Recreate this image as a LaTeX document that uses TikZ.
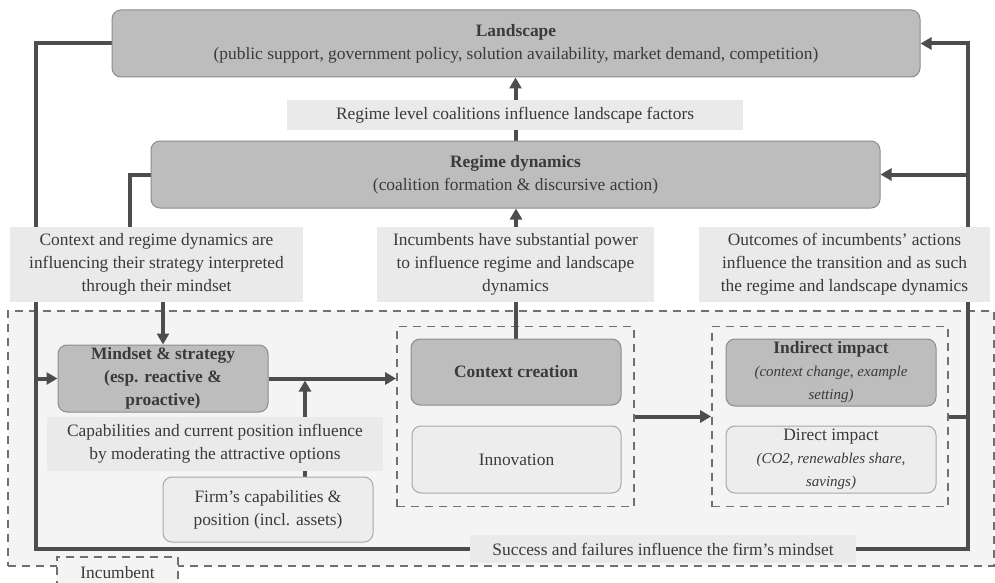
\documentclass[tikz,border=0pt]{standalone}
\usepackage{fontspec}
\setmainfont{Liberation Serif}
\usetikzlibrary{arrows.meta}

\definecolor{ink}{HTML}{3A3A3A}
\definecolor{wirecol}{HTML}{4D4D4D}
\definecolor{darkfill}{HTML}{BDBDBD}
\definecolor{darkedge}{HTML}{8C8C8C}
\definecolor{lightfill}{HTML}{EDEDED}
\definecolor{lightedge}{HTML}{A8A8A8}
\definecolor{notefill}{HTML}{EAEAEA}
\definecolor{zonefill}{HTML}{F4F4F4}
\definecolor{dashcol}{HTML}{707070}

\newcommand\detailtext{\fontsize{15}{22}\selectfont\itshape}

\pgfdeclarelayer{zone}
\pgfdeclarelayer{wires}
\pgfsetlayers{zone,wires,main}

\tikzset{
  base/.style={inner sep=0pt, align=center, text=ink,
    font=\fontsize{17.4}{23}\selectfont},
  darkbox/.style={base, rounded corners=9pt, fill=darkfill, draw=darkedge, line width=1pt},
  lightbox/.style={base, rounded corners=9pt, fill=lightfill, draw=lightedge, line width=1pt},
  note/.style={base, fill=notefill},
  dashbox/.style={draw=dashcol, dash pattern=on 8pt off 6pt, line width=1.8pt},
  wire/.style={draw=wirecol, line width=4pt},
  flow/.style={wire, -{Triangle[width=12pt,length=11pt]}},
}

\begin{document}
\begin{tikzpicture}[x=1pt,y=-1pt]
\useasboundingbox (0,0) rectangle (995,583);

% incumbent zone and its inner dashed groups
\begin{pgfonlayer}{zone}
  \node[dashbox, fill=zonefill, minimum width=986pt, minimum height=255pt] (inc) at (501,438.5) {};
  \node[dashbox, minimum width=237pt, minimum height=180pt] (ctxd) at (515.5,416.5) {};
  \node[dashbox, minimum width=236pt, minimum height=180pt] (impd) at (830,416.5) {};
\end{pgfonlayer}

% upper levels
\node[darkbox, minimum width=808pt, minimum height=67pt] (land) at (516,43.5)
  {\textbf{Landscape}\\(public support, government policy, solution availability, market demand, competition)};
\node[note, minimum width=456pt, minimum height=30pt] (lbl1) at (515,115)
  {Regime level coalitions influence landscape factors};
\node[darkbox, minimum width=729pt, minimum height=67pt] (regime) at (515.5,174.5)
  {\textbf{Regime dynamics}\\(coalition formation \& discursive action)};

% explanatory notes
\node[note, minimum width=293pt, minimum height=75pt] (lblA) at (156.5,264.5)
  {Context and regime dynamics are\\influencing their strategy interpreted\\through their mindset};
\node[note, minimum width=277pt, minimum height=75pt] (lblB) at (515.5,264.5)
  {Incumbents have substantial power\\to influence regime and landscape\\dynamics};
\node[note, minimum width=291pt, minimum height=75pt] (lblC) at (844.5,264.5)
  {Outcomes of incumbents’ actions\\influence the transition and as such\\the regime and landscape dynamics};

% incumbent internals
\node[darkbox, minimum width=210pt, minimum height=67pt] (mind) at (163,378.5)
  {\textbf{Mindset \& strategy}\\\textbf{(esp. reactive \&}\\\textbf{proactive)}};
\node[note, minimum width=336pt, minimum height=54pt] (capl) at (215,444)
  {Capabilities and current position influence\\by moderating the attractive options};
\node[lightbox, minimum width=210pt, minimum height=65pt] (firm) at (268,509.5)
  {Firm’s capabilities \&\\position (incl. assets)};
\node[darkbox, minimum width=210pt, minimum height=66pt] (ctx) at (516,372)
  {\textbf{Context creation}};
\node[lightbox, minimum width=209pt, minimum height=67pt] (innov) at (516.5,459.5)
  {Innovation};
\node[darkbox, minimum width=210pt, minimum height=67pt] (indir) at (831,372.5)
  {\textbf{Indirect impact}\\{\detailtext (context change, example}\\{\detailtext setting)}};
\node[lightbox, minimum width=210pt, minimum height=67pt] (direct) at (831,459.5)
  {Direct impact\\{\detailtext (CO2, renewables share,}\\{\detailtext savings)}};
\node[note, minimum width=386pt, minimum height=28pt] (succ) at (663,549)
  {Success and failures influence the firm’s mindset};

% incumbent tab
\node[base, fill=zonefill, minimum width=121pt, minimum height=32pt] (tab) at (117.5,573) {Incumbent};
\draw[dashbox] (tab.south west) |- (tab.north east) -- (tab.south east);

% connectors
\coordinate (cl) at (36,549);
\coordinate (cr) at (968,549);
\coordinate (cj) at (305,378.5);
\begin{pgfonlayer}{wires}
  \draw[flow] (regime.north) -- (regime.north |- land.south);
  \draw[flow] (ctx.north) -- (ctx.north |- regime.south);
  \draw[wire] (regime.west) -| ([xshift=-26.5pt]lblA.north);
  \draw[flow] (mind.north |- lblA.south) -- (mind.north);
  \draw[wire] (land.west) -| (cl) -- (succ.west);
  \draw[flow] (succ.east) -- (cr) |- (land.east);
  \draw[flow] (cr |- regime.east) -- (regime.east);
  \draw[wire] (impd.east) -- (cr |- impd.east);
  \draw[flow] (cl |- mind.west) -- (mind.west);
  \draw[flow] (mind.east) -- (mind.east -| ctxd.west);
  \draw[flow, shorten >=2pt] (capl.north -| cj) -- (cj);
  \draw[wire] (capl.south -| cj) -- (firm.north -| cj);
  \draw[flow] (ctxd.east) -- (impd.west);
\end{pgfonlayer}
\end{tikzpicture}
\end{document}
